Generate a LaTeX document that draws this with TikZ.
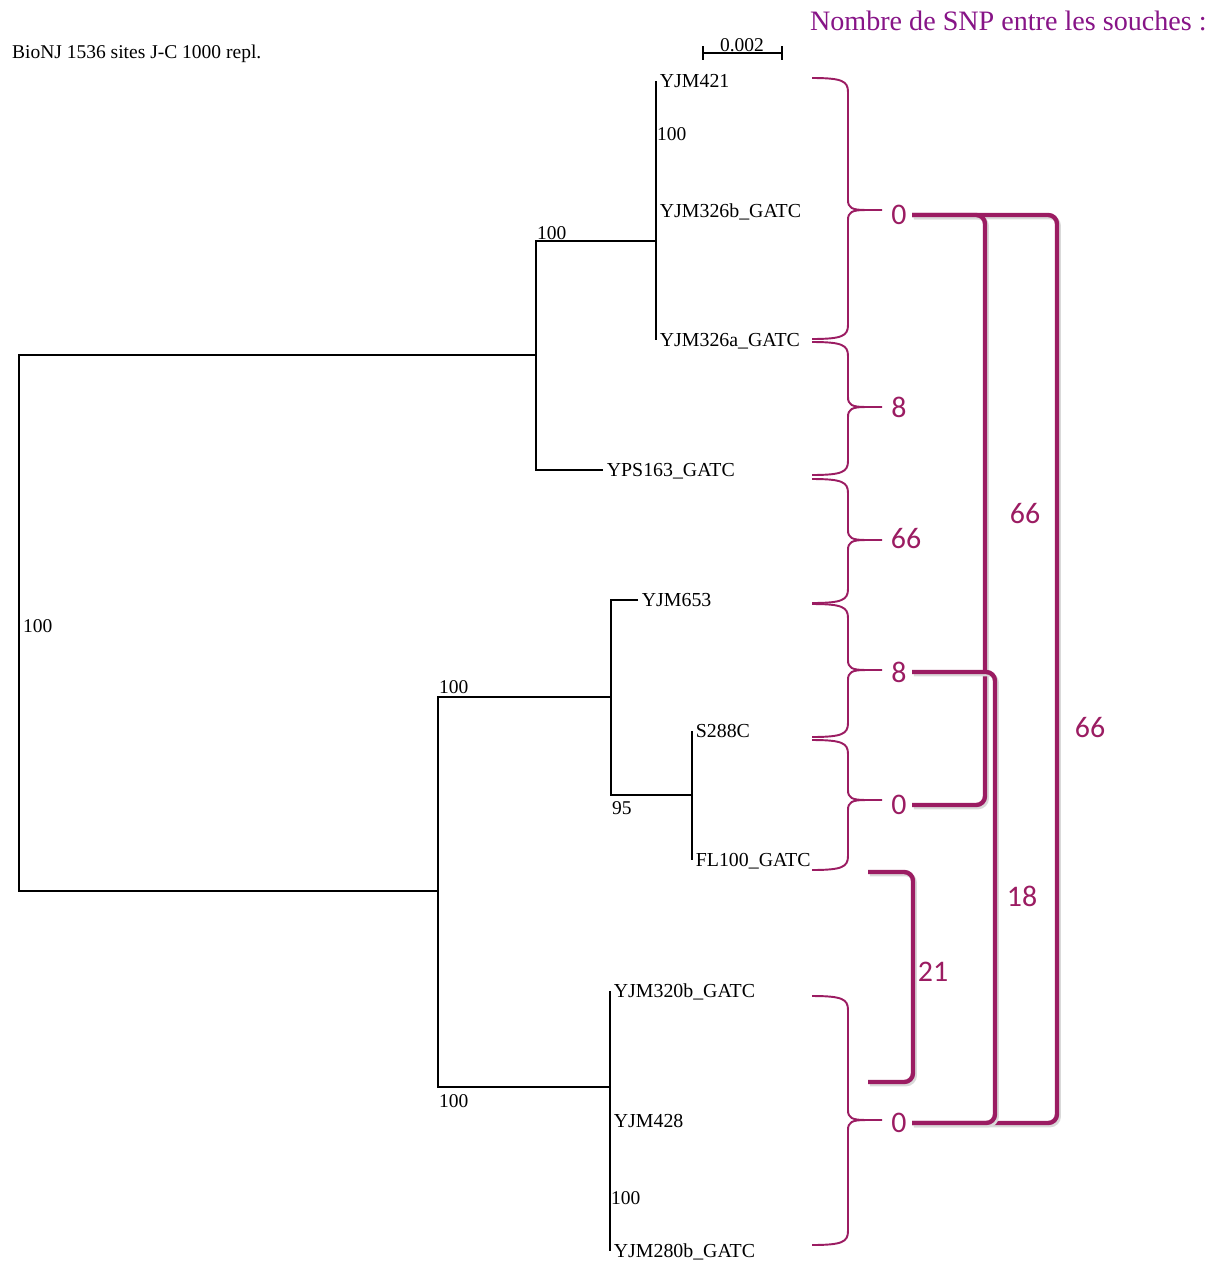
\documentclass[tikz,border=0pt]{standalone}
\usepackage{fontspec}
\setmainfont{Liberation Serif}
\newfontfamily\snpfont{Carlito}
\usepackage{tikz}
\usetikzlibrary{positioning}
\definecolor{snpred}{RGB}{155,28,98}
\definecolor{titlepurple}{RGB}{135,20,135}

\begin{document}
\begin{tikzpicture}[x=0.02cm, y=-0.02cm,
  branch/.style={line width=0.8pt},
  leaf/.style={anchor=west, inner sep=2pt, font=\fontsize{11.3}{13}\selectfont, text height=1.5ex, text depth=0pt},
  boot/.style={font=\fontsize{11.1}{13}\selectfont, inner sep=1pt, text height=1.5ex, text depth=0pt},
  snp/.style={font=\snpfont\fontsize{17}{20}\selectfont, text=snpred, inner sep=3pt},
  snpbrace/.style={draw=snpred, line width=1.1pt},
  bracket/.style={draw=snpred, line width=2.5pt, rounded corners=5pt,
    preaction={draw=black!15, line width=2.5pt, transform canvas={shift={(1pt,-1.2pt)}}}}]
  \useasboundingbox (0,0) rectangle (1220,1261);
  \node[boot, anchor=west] (info) at (10,52) {BioNJ 1536 sites J-C 1000 repl.};
  \node[anchor=east, inner sep=0pt, font=\fontsize{16}{19}\selectfont, text=titlepurple] (title) at (1207,21) {Nombre de SNP entre les souches :};
  \node[boot] (scale) at (742,45) {0.002};
  \coordinate (sb1) at (703,53);
  \coordinate (sb2) at (782,53);
  \draw[branch] (sb1) -- (sb2) (sb1) ++(0,-7) -- ++(0,14) (sb2) ++(0,-7) -- ++(0,14);

  \node[leaf] (y421) at (656,81) {YJM421};
  \node[leaf] (y326b) at (656,211) {YJM326b\_GATC};
  \node[leaf] (y326a) at (656,340) {YJM326a\_GATC};
  \node[leaf] (yps) at (603,470) {YPS163\_GATC};
  \node[leaf] (y653) at (638,600) {YJM653};
  \node[leaf] (s288) at (692,731) {S288C};
  \node[leaf] (fl100) at (692,860) {FL100\_GATC};
  \node[leaf] (y320b) at (610,991) {YJM320b\_GATC};
  \node[leaf] (y428) at (610,1121) {YJM428};
  \node[leaf] (y280b) at (610,1251) {YJM280b\_GATC};

  \coordinate (root) at (19,623);
  \coordinate (cA) at (536,355);
  \coordinate (cA1) at (656,241);
  \coordinate (cB) at (438,891);
  \coordinate (cB1) at (611,697);
  \coordinate (cB2) at (610,1087);
  \coordinate (cC) at (692,795);
  \draw[branch] (cA) -| (root) |- (cB);
  \draw[branch] (cA1) -| (cA) |- (yps.west);
  \draw[branch] (y421.west) -- (y326a.west);
  \draw[branch] (cB1) -| (cB) |- (cB2);
  \draw[branch] (y653.west) -| (cB1) |- (cC);
  \draw[branch] (s288.west) -- (fl100.west);
  \draw[branch] (y320b.west) -- (y280b.west);

  \node[boot, anchor=west] (b1) at (21,626) {100};
  \node[boot, anchor=south west] (b2) at (535,242) {100};
  \node[boot, anchor=west] (b3) at (655,134) {100};
  \node[boot, anchor=south west] (b4) at (437,696) {100};
  \node[boot, anchor=north west] (b5) at (437,1093) {100};
  \node[boot, anchor=west] (b6) at (610,808) {95};
  \node[boot, anchor=west] (b7) at (609,1198) {100};

  \foreach \ya/\yb/\ym in {78/339/210, 342/475/407, 479/603/540, 604/737/670, 740/870/800, 996/1245/1120}
    \draw[snpbrace] (812,\ya) .. controls (842,\ya) and (848,\ya+3) .. (848,\ya+14) -- (848,\ym-10)
      .. controls (848,\ym-2) and (852,\ym) .. (866,\ym) -- (882,\ym)
      (866,\ym) .. controls (852,\ym) and (848,\ym+2) .. (848,\ym+10) -- (848,\yb-14)
      .. controls (848,\yb-3) and (842,\yb) .. (812,\yb);

  \node[snp] (s1) at (899,215) {0};
  \node[snp] (s2) at (899,407) {8};
  \node[snp] (s3) at (906,539) {66};
  \node[snp] (s4) at (899,672) {8};
  \node[snp] (s5) at (899,805) {0};
  \node[snp] (s6) at (899,1123) {0};

  \coordinate (kA) at (985,0);
  \coordinate (kB) at (995,0);
  \coordinate (kC) at (1057,0);
  \coordinate (d1) at (868,872);
  \coordinate (d2) at (868,1082);
  \coordinate (kD) at (913,977);
  \draw[bracket] (s1.east) -- (s1.east -| kC) -- (s6.east -| kC) -- (s6.east);
  \draw[bracket] (s1.east) -- (s1.east -| kA) -- (s5.east -| kA) -- (s5.east);
  \draw[bracket] (s4.east) -- (s4.east -| kB) -- (s6.east -| kB) -- (s6.east);
  \draw[bracket] (d1) -| (kD) |- (d2);

  \node[snp] (pA) at (1025,514) {66};
  \node[snp] (pB) at (1022,896) {18};
  \node[snp] (pC) at (1090,728) {66};
  \node[snp] (pD) at (933,972) {21};
\end{tikzpicture}
\end{document}
